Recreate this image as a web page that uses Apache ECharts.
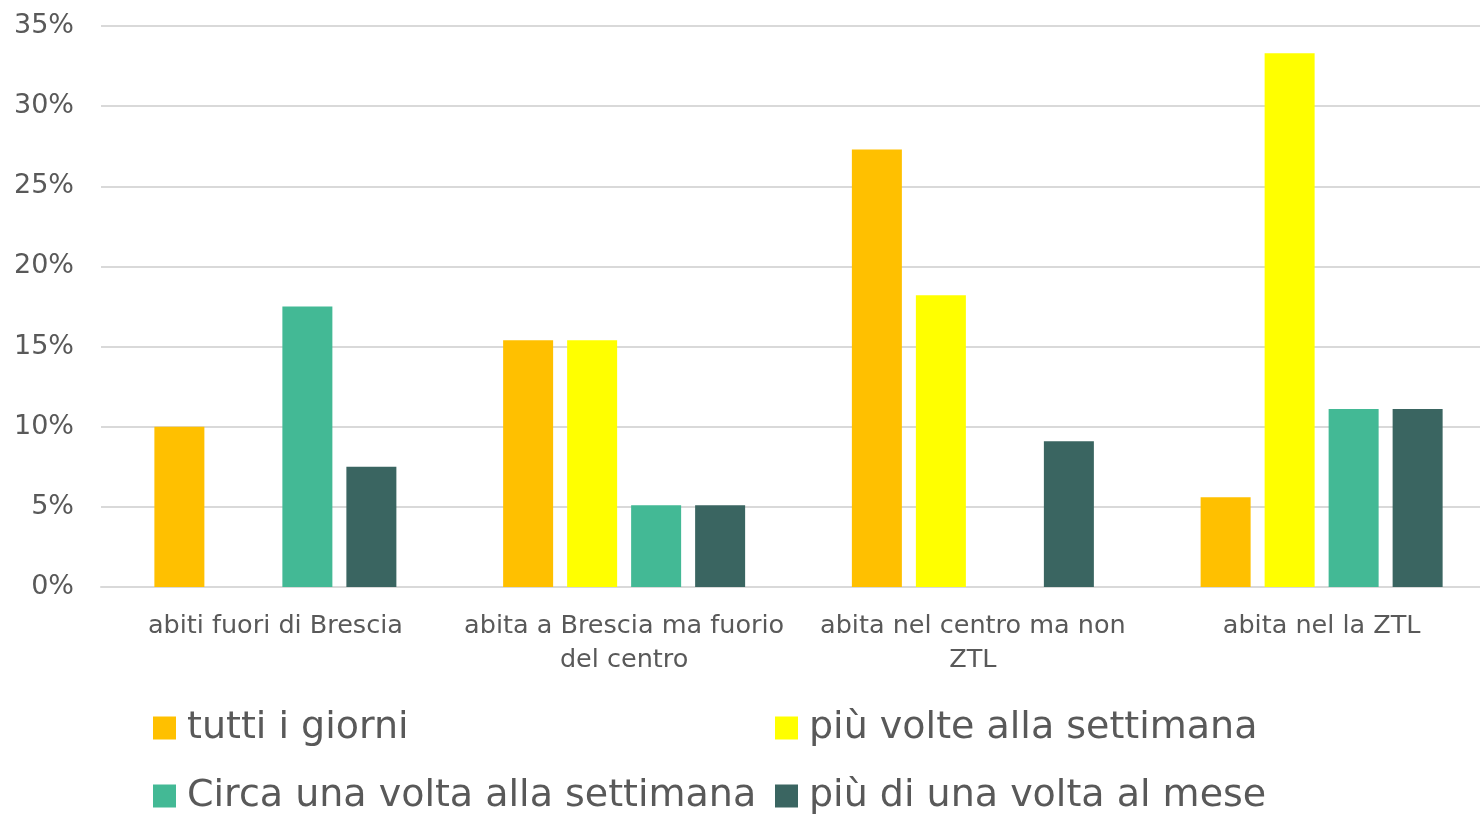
<!DOCTYPE html>
<html>
<head>
<meta charset="utf-8">
<script src="https://cdn.jsdelivr.net/npm/echarts@6/dist/echarts.min.js"></script>
<style>
  html, body { margin: 0; padding: 0; background: #fff; }
  #chart { width: 1480px; height: 818px; }
</style>
</head>
<body>
<div id="chart"></div>
<script>
  const categories = [
    'abiti fuori di Brescia',
    'abita a Brescia ma fuorio\ndel centro',
    'abita nel centro ma non\nZTL',
    'abita nel la ZTL',
  ];
  const seriesNames = [
    'tutti i giorni',
    'più volte alla settimana',
    'Circa una volta alla settimana',
    'più di una volta al mese',
  ];
  const tuttiGiorni = [10.0, 15.4, 27.3, 5.6];
  const piuVolte = [0, 15.4, 18.2, 33.3];
  const circaUna = [17.5, 5.1, 0, 11.1];
  const piuDiUna = [7.5, 5.1, 9.1, 11.1];
  const yTicks = [0, 5, 10, 15, 20, 25, 30, 35];

  const colors = ['#FFC000', '#FFFF00', '#43B995', '#3A6561'];
  const values = [tuttiGiorni, piuVolte, circaUna, piuDiUna];
  const font = '"DejaVu Sans", sans-serif';

  const chart = echarts.init(document.getElementById('chart'));

  // two legend columns, each stacked vertically
  const legendStyle = {
    orient: 'vertical',
    top: 708,
    height: 110,
    itemWidth: 23,
    itemHeight: 23,
    itemGap: 28,
    icon: 'rect',
    padding: 0,
    textStyle: { fontFamily: font, fontSize: 38, lineHeight: 40, color: '#595959', padding: [0, 0, 0, 6] },
  };

  chart.setOption({
    animation: false,
    color: colors,
    grid: {
      left: 101,
      width: 1395,
      top: 26,
      bottom: 231,
      containLabel: false,
      outerBoundsMode: 'none',
    },
    legend: [
      Object.assign({ left: 153, data: [seriesNames[0], seriesNames[2]] }, legendStyle),
      Object.assign({ left: 775, data: [seriesNames[1], seriesNames[3]] }, legendStyle),
    ],
    xAxis: {
      type: 'category',
      data: categories,
      axisLine: { lineStyle: { color: '#D9D9D9', width: 2 } },
      axisTick: { show: false },
      axisLabel: {
        fontFamily: font,
        fontSize: 25.5,
        color: '#595959',
        margin: 22,
        lineHeight: 34,
        interval: 0,
      },
    },
    yAxis: {
      type: 'value',
      min: yTicks[0],
      max: yTicks[yTicks.length - 1],
      interval: 5,
      axisLine: { show: false },
      axisTick: { show: false },
      splitLine: { lineStyle: { color: '#D9D9D9', width: 2 } },
      axisLabel: {
        fontFamily: font,
        fontSize: 27,
        color: '#595959',
        margin: 27,
        formatter: (v) => v + '%',
      },
    },
    series: seriesNames.map((name, i) => ({
      name,
      type: 'bar',
      data: values[i],
      barWidth: 50,
      barGap: '28%',
      itemStyle: { color: colors[i] },
    })),
  });
</script>
</body>
</html>
